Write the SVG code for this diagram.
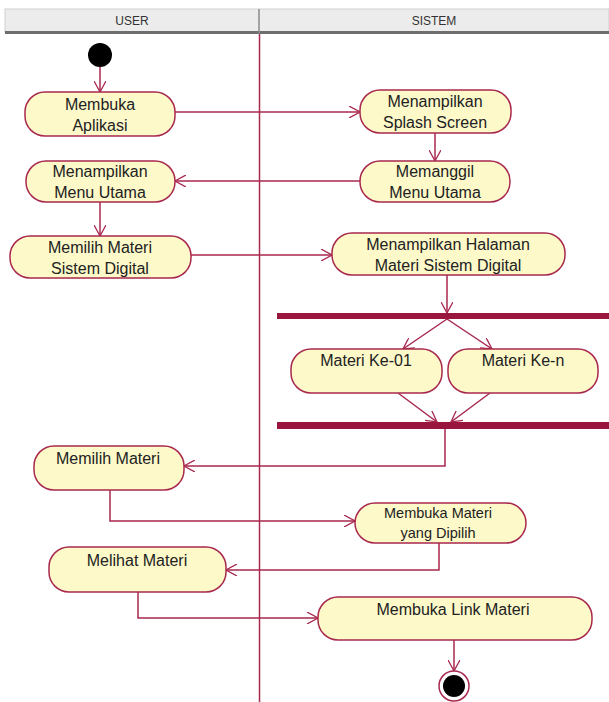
<svg xmlns="http://www.w3.org/2000/svg" width="609" height="702" viewBox="0 0 609 702">
<defs>
<style>
.node{fill:#fdf9c9;stroke:#a8284e;stroke-width:1.5}
.t{font-family:"Liberation Sans",Arial,sans-serif;font-size:16px;fill:#222;text-anchor:middle}
.ts{font-family:"Liberation Sans",Arial,sans-serif;font-size:14.5px;fill:#222;text-anchor:middle}
.h{font-family:"Liberation Sans",Arial,sans-serif;font-size:12px;fill:#333;text-anchor:middle}
.c{fill:none;stroke:#a8284e;stroke-width:1.5}
.bar{fill:#99163f}
</style>
<marker id="a" viewBox="0 0 12 12" refX="11" refY="6" markerWidth="12" markerHeight="12" markerUnits="userSpaceOnUse" orient="auto">
<path d="M0,0 L11,6 L0,12" fill="none" stroke="#a8284e" stroke-width="1.3"/>
</marker>
</defs>
<rect width="609" height="702" fill="#fff"/>
<g id="header">
<rect x="5" y="9" width="604" height="23" fill="#ececec" stroke="#d0d0d0" stroke-width="1"/>
<rect x="5" y="31" width="604" height="3" fill="#6e6e6e"/>
<line x1="259" y1="9" x2="259" y2="34" stroke="#8a8a8a" stroke-width="1.5"/>
<text class="h" x="132" y="25">USER</text>
<text class="h" x="434" y="25">SISTEM</text>
</g>
<line id="swimlane" x1="259.5" y1="34" x2="259.5" y2="702" stroke="#a8284e" stroke-width="1.5"/>
<g id="connectors">
<line class="c" x1="100" y1="67" x2="100" y2="92" marker-end="url(#a)"/>
<line class="c" x1="175" y1="112" x2="360" y2="112" marker-end="url(#a)"/>
<line class="c" x1="435" y1="133" x2="435" y2="161" marker-end="url(#a)"/>
<line class="c" x1="360" y1="181" x2="175" y2="181" marker-end="url(#a)"/>
<line class="c" x1="100" y1="202" x2="100" y2="236" marker-end="url(#a)"/>
<line class="c" x1="191" y1="255" x2="332" y2="255" marker-end="url(#a)"/>
<line class="c" x1="447" y1="275" x2="447" y2="313" marker-end="url(#a)"/>
<line class="c" x1="447" y1="319" x2="403" y2="349" marker-end="url(#a)"/>
<line class="c" x1="447" y1="319" x2="492" y2="349" marker-end="url(#a)"/>
<line class="c" x1="398" y1="393" x2="437" y2="422" marker-end="url(#a)"/>
<line class="c" x1="490" y1="393" x2="451" y2="422" marker-end="url(#a)"/>
<polyline class="c" points="445,429 445,466 184,466" marker-end="url(#a)"/>
<polyline class="c" points="110,490 110,521 355,521" marker-end="url(#a)"/>
<polyline class="c" points="439,543 439,570 226,570" marker-end="url(#a)"/>
<polyline class="c" points="138,592 138,618 318,618" marker-end="url(#a)"/>
<line class="c" x1="454" y1="640" x2="454" y2="671" marker-end="url(#a)"/>
</g>
<g id="start"><circle cx="100" cy="55" r="12" fill="#000"/></g>
<g id="n1"><rect class="node" x="25" y="92" width="150" height="44" rx="20" ry="20"/><text class="t" x="100" y="110">Membuka</text><text class="t" x="100" y="131">Aplikasi</text></g>
<g id="n2"><rect class="node" x="360" y="90" width="151" height="43" rx="20" ry="20"/><text class="t" x="435" y="107">Menampilkan</text><text class="t" x="435" y="128">Splash Screen</text></g>
<g id="n3"><rect class="node" x="360" y="161" width="150" height="41" rx="20" ry="20"/><text class="t" x="435" y="177">Memanggil</text><text class="t" x="435" y="198">Menu Utama</text></g>
<g id="n4"><rect class="node" x="26" y="161" width="149" height="41" rx="20" ry="20"/><text class="t" x="100" y="177">Menampilkan</text><text class="t" x="100" y="198">Menu Utama</text></g>
<g id="n5"><rect class="node" x="10" y="236" width="181" height="42" rx="20" ry="20"/><text class="t" x="100" y="253">Memilih Materi</text><text class="t" x="100" y="274">Sistem Digital</text></g>
<g id="n6"><rect class="node" x="332" y="233" width="233" height="42" rx="20" ry="20"/><text class="t" x="448" y="250">Menampilkan Halaman</text><text class="t" x="448" y="271">Materi Sistem Digital</text></g>
<g id="fork"><rect class="bar" x="277" y="313" width="332" height="6"/></g>
<g id="n7"><rect class="node" x="291" y="349" width="151" height="44" rx="20" ry="20"/><text class="t" x="366" y="366">Materi Ke-01</text></g>
<g id="n8"><rect class="node" x="448" y="349" width="150" height="44" rx="20" ry="20"/><text class="t" x="523" y="366">Materi Ke-n</text></g>
<g id="join"><rect class="bar" x="277" y="422" width="332" height="7"/></g>
<g id="n9"><rect class="node" x="34" y="446" width="150" height="44" rx="20" ry="20"/><text class="t" x="108" y="464">Memilih Materi</text></g>
<g id="n10"><rect class="node" x="355" y="503" width="171" height="40" rx="20" ry="20"/><text class="ts" x="438" y="518">Membuka Materi</text><text class="ts" x="438" y="538">yang Dipilih</text></g>
<g id="n11"><rect class="node" x="49" y="547" width="177" height="45" rx="20" ry="20"/><text class="t" x="137" y="566">Melihat Materi</text></g>
<g id="n12"><rect class="node" x="318" y="597" width="274" height="43" rx="20" ry="20"/><text class="t" x="453" y="615">Membuka Link Materi</text></g>
<g id="end"><circle cx="454" cy="686" r="15" fill="#fff" stroke="#a8284e" stroke-width="1.5"/><circle cx="454" cy="686" r="11" fill="#000"/></g>
</svg>
